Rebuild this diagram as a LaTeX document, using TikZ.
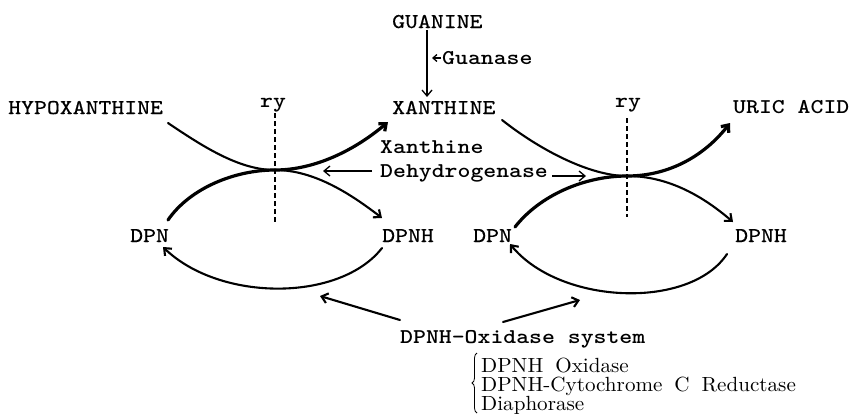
\documentclass[tikz,border=0pt]{standalone}
\usepackage{fontspec}
\newfontfamily\tw{lmmono10-regular.otf}[FakeStretch=1.17,UprightFeatures={FakeBold=0.5},BoldFont=lmmonolt10-bold.otf]
\newfontfamily\lr{lmroman10-regular.otf}[WordSpace=1.7,FakeStretch=1.03]
\usetikzlibrary{arrows.meta,decorations.pathreplacing}
\begin{document}
\begin{tikzpicture}[x=1pt,y=-1pt,
  lbl/.style={inner sep=0pt,anchor=base west,font=\tw\fontsize{21}{21}\selectfont},
  blbl/.style={inner sep=0pt,anchor=base west,font=\tw\bfseries\fontsize{21}{21}\selectfont},
  rlbl/.style={inner sep=0pt,anchor=base west,text height=14pt,text depth=2pt,
    font=\lr\fontsize{20.5}{19}\selectfont},
  flow/.style={line width=2.1pt,line cap=round},
  heavy/.style={line width=3.2pt,line cap=round},
  thin/.style={line width=1.3pt},
  tip/.style={-{Straight Barb[length=6pt,width=10pt]}},
  smalltip/.style={-{Straight Barb[length=4pt,width=7pt]}},
  ryline/.style={line width=1.2pt,dash pattern=on 5pt off 3pt}]
\fill[white] (0,0) rectangle (853,416);
\useasboundingbox (0,0) rectangle (853,416);

% compounds and enzymes
\node[lbl]  (gua)   at (392,28)  {GUANINE};
\node[blbl] (guase) at (442,64)  {Guanase};
\node[lbl]  (hypo)  at (8,114)   {HYPOXANTHINE};
\node[lbl]  (xan)   at (392,114) {XANTHINE};
\node[blbl] (uric)  at (733,113) {URIC ACID};
\node[blbl] (ryA)   at (260,107) {ry};
\node[blbl] (ryB)   at (615,107) {ry};
\node[blbl] (xdA)   at (380,153) {Xanthine};
\node[blbl] (xdB)   at (380,177) {Dehydrogenase};
\node[lbl]  (dpnA)  at (130,242) {DPN};
\node[lbl]  (dpnhA) at (382,242) {DPNH};
\node[lbl]  (dpnB)  at (473,242) {DPN};
\node[lbl]  (dpnhB) at (735,242) {DPNH};
\node[blbl] (sys)   at (400,343) {DPNH-Oxidase system};
\node[rlbl] (ox1)   at (481,372) {DPNH Oxidase};
\node[rlbl] (ox2)   at (481,391) {DPNH-Cytochrome C Reductase};
\node[rlbl] (ox3)   at (481,410) {Diaphorase};

% curve end points and touching points
\coordinate (hA) at (168,123);
\coordinate (cA) at (275,170);
\coordinate (xA) at (388,122);
\coordinate (pA) at (168,220);
\coordinate (qA) at (382,218);
\coordinate (rA) at (382,248);
\coordinate (sA) at (163,247);
\coordinate (hB) at (502,120);
\coordinate (cB) at (627,176);
\coordinate (xB) at (730,123);
\coordinate (pB) at (515,227);
\coordinate (qB) at (733,222);
\coordinate (rB) at (727,254);
\coordinate (sB) at (510,244);

% Guanine -> Xanthine
\draw[thin,tip] (427,30) -- (427,97);
\draw[thin,smalltip] (441,58) -- (432,58);

% left cycle: hypoxanthine -> xanthine, DPN -> DPNH
\draw[flow] (hA) .. controls (205,148) and (240,170) .. (cA);
\draw[heavy,tip] (cA) .. controls (315,170) and (355,150) .. (xA);
\draw[heavy] (pA) .. controls (190,188) and (235,170) .. (cA);
\draw[flow,tip] (cA) .. controls (315,170) and (352,195) .. (qA);
\draw[flow,tip] (rA) .. controls (340,302) and (220,302) .. (sA);
\draw[ryline] (275,113) -- (275,222);

% right cycle: xanthine -> uric acid, DPN -> DPNH
\draw[flow] (hB) .. controls (540,150) and (590,176) .. (cB);
\draw[heavy,tip] (cB) .. controls (670,176) and (705,155) .. (xB);
\draw[heavy] (pB) .. controls (540,195) and (585,176) .. (cB);
\draw[flow,tip] (cB) .. controls (670,176) and (705,198) .. (qB);
\draw[flow,tip] (rB) .. controls (690,310) and (560,305) .. (sB);
\draw[ryline] (627,118) -- (627,217);

% enzyme pointers
\draw[thin,tip] (372,171) -- (323,171);
\draw[thin,tip] (552,176) -- (586,176);
\draw[flow,tip] (400,320) -- (320,296);
\draw[flow,tip] (503,322) -- (580,300);

% components of the oxidase system
\draw[line width=0.8pt,decorate,decoration={brace,amplitude=5pt}] (477,413) -- (477,353);
\end{tikzpicture}
\end{document}
